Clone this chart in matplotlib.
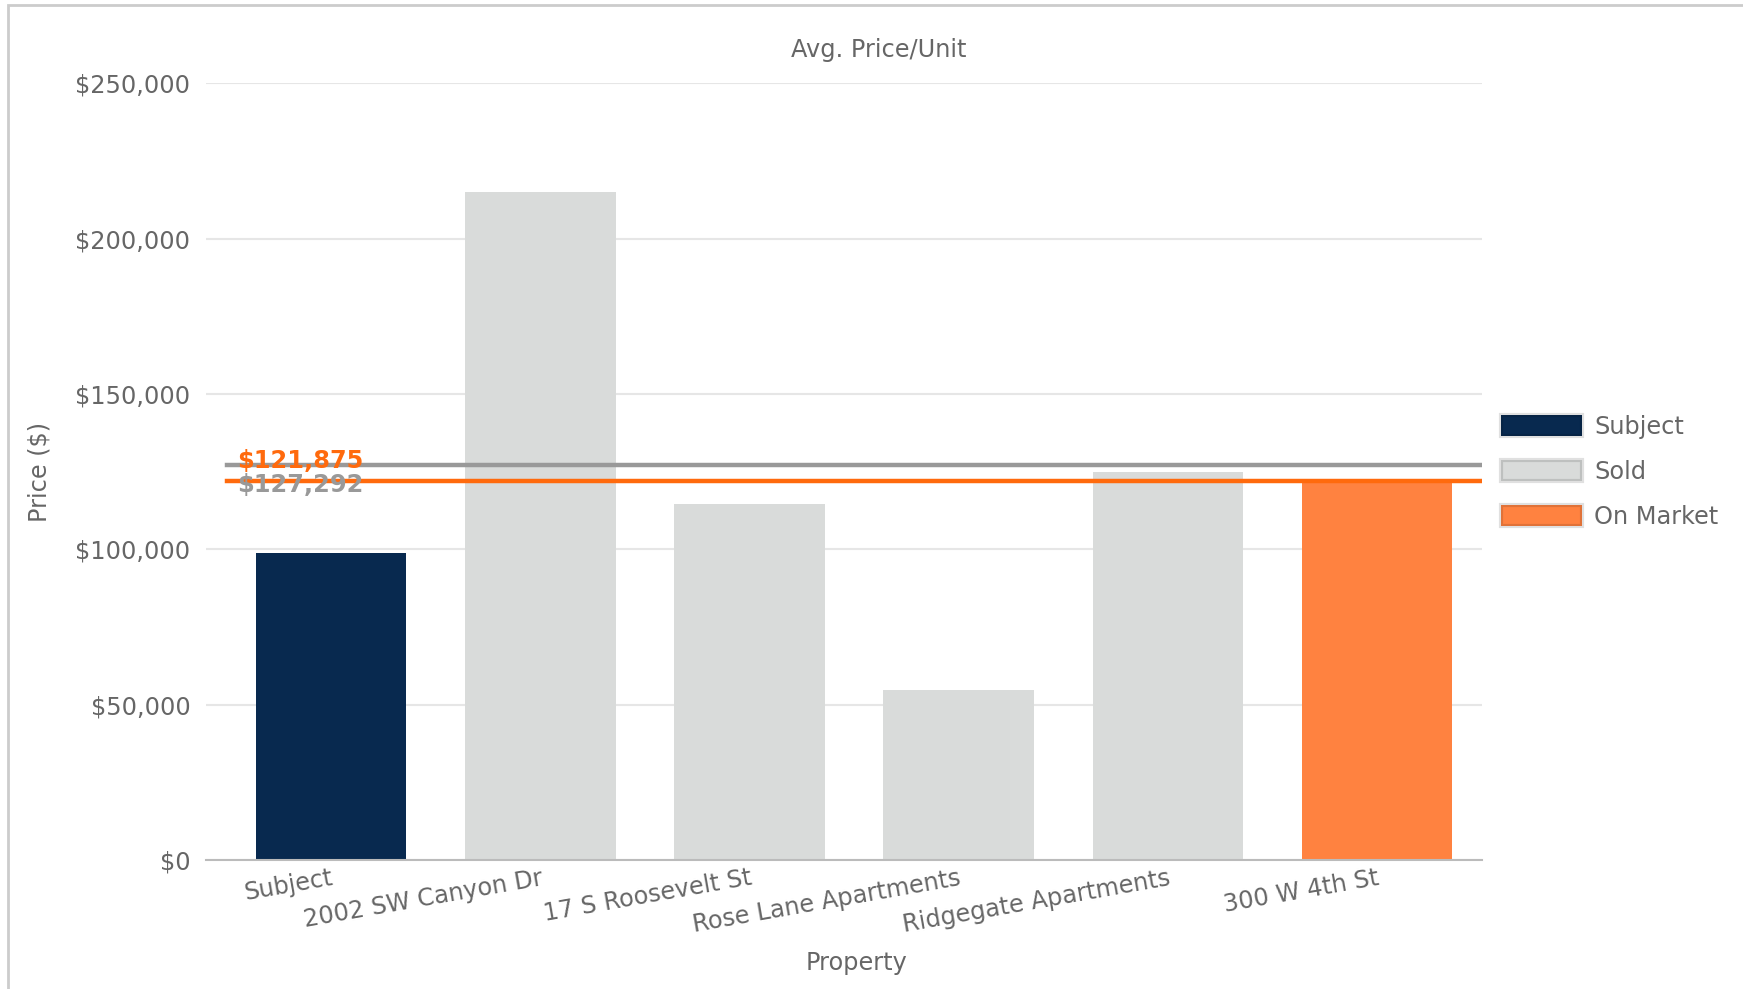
import matplotlib.pyplot as plt
from matplotlib.patches import Patch, Rectangle
from matplotlib.ticker import FuncFormatter

# Avg. price per unit for the subject and comparables
properties = ["Subject", "2002 SW Canyon Dr", "17 S Roosevelt St",
              "Rose Lane Apartments", "Ridgegate Apartments", "300 W 4th St"]
prices = [98750, 215000, 114500, 54667, 125000, 121875]
status = ["Subject", "Sold", "Sold", "Sold", "Sold", "On Market"]

avg_sold = 127292
avg_on_market = 121875

colors = {"Subject": "#08294f", "Sold": "#d9dbda", "On Market": "#ff8240"}
text_color = "#666666"
fs = 17.3

plt.rcParams['font.family'] = ['DejaVu Sans']

fig = plt.figure(figsize=(17.43, 9.89), dpi=100)
ax = fig.add_axes([0.118, 0.130, 0.732, 0.786])

x = range(len(properties))
ax.bar(x, prices, width=0.72, color=[colors[s] for s in status], zorder=2)

# average lines
ax.plot([-0.5, 5.5], [avg_sold, avg_sold], color="#999999", lw=3.2, zorder=3)
ax.plot([-0.5, 5.5], [avg_on_market, avg_on_market], color="#ff6a0d", lw=3.2, zorder=3)
ax.annotate(f"${avg_on_market:,}", xy=(-0.45, avg_on_market), xytext=(0, 15),
            textcoords="offset points", color="#ff6a0d", fontsize=fs,
            fontweight="bold", va="center", ha="left", zorder=4)
ax.annotate(f"${avg_sold:,}", xy=(-0.45, avg_sold), xytext=(0, -15),
            textcoords="offset points", color="#999999", fontsize=fs,
            fontweight="bold", va="center", ha="left", zorder=4)

ax.set_xlim(-0.6, 5.5)
ax.set_ylim(0, 250000)
ax.set_yticks(range(0, 250001, 50000))
ax.yaxis.set_major_formatter(FuncFormatter(lambda v, p: f"${int(v):,}"))
ax.set_xticks(list(x))
ax.set_xticklabels(properties, rotation=10, ha="right", rotation_mode="anchor")
ax.tick_params(axis="both", length=0, labelsize=fs, labelcolor=text_color)
ax.tick_params(axis="y", pad=11)
ax.tick_params(axis="x", pad=4)
ax.grid(axis="y", color="#e6e6e6", lw=1.5, zorder=0)
for side in ["left", "right", "top"]:
    ax.spines[side].set_visible(False)
ax.spines["bottom"].set_color("#bbbbbb")
ax.spines["bottom"].set_linewidth(1.5)

fig.text(0.504, 0.949, "Avg. Price/Unit", fontsize=fs, color=text_color,
         ha="center", va="center")
ax.set_xlabel("Property", fontsize=fs, color=text_color)
ax.xaxis.set_label_coords(0.510, -0.116)
ax.set_ylabel("Price ($)", fontsize=fs, color=text_color, labelpad=17)

handles = [Patch(facecolor=colors[k], edgecolor=(0, 0, 0, 0.12), linewidth=3, label=k)
           for k in ["Subject", "Sold", "On Market"]]
ax.legend(handles=handles, loc="center left", bbox_to_anchor=(0.998, 0.5),
          frameon=False, fontsize=fs, labelcolor=text_color,
          handlelength=3.4, handleheight=1.0, labelspacing=0.87, handletextpad=0.5)

# light frame around the figure
fig.patches.append(Rectangle((0.0046, -0.1), 1.2, 0.1 + 0.9945, transform=fig.transFigure,
                             fill=False, edgecolor="#cccccc", lw=2))

fig.savefig("out.png", dpi=100)
